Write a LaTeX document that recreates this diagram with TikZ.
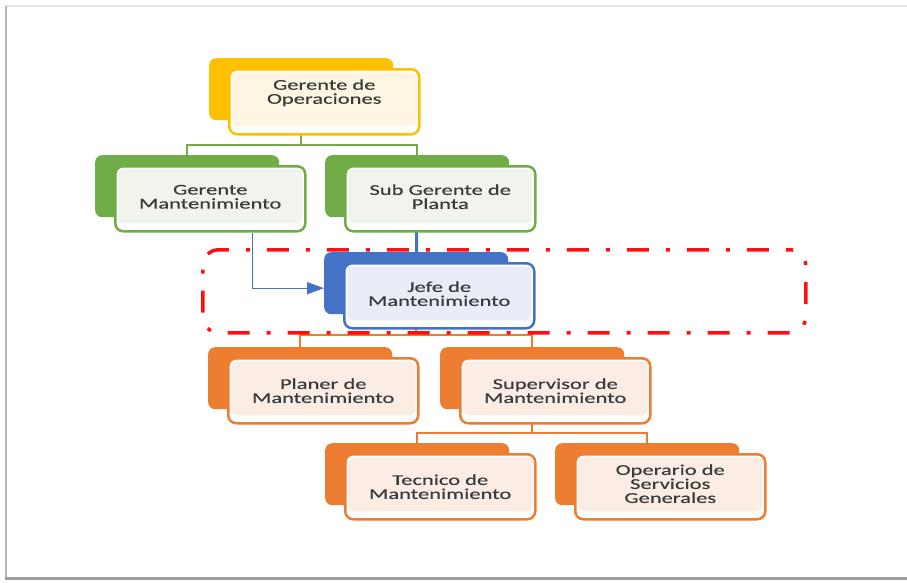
\documentclass[tikz,border=0pt]{standalone}
\usepackage{fontspec}
\newfontfamily\orgfont[FakeStretch=1.5,FakeBold=0.4]{Carlito}
\usetikzlibrary{arrows.meta}

\definecolor{yel}{HTML}{FFC000}
\definecolor{yelT}{HTML}{FEF6E2}
\definecolor{grn}{HTML}{70AD47}
\definecolor{grnT}{HTML}{F0F4EC}
\definecolor{blu}{HTML}{4472C4}
\definecolor{bluT}{HTML}{E8EDF7}
\definecolor{org}{HTML}{ED7D31}
\definecolor{orgT}{HTML}{FCEDE4}
\definecolor{txt}{HTML}{3A3A3A}
\definecolor{hilite}{HTML}{FF1010}

\pgfdeclarelayer{paper}
\pgfdeclarelayer{background}
\pgfsetlayers{paper,background,main}

\tikzset{
  backcard/.style={rounded corners=7pt, minimum width=184pt, minimum height=62pt,
    inner sep=0pt, anchor=north west},
  tintfill/.style={path picture={
    \fill[#1, rounded corners=5pt]
      ([shift={(3pt,-3pt)}]path picture bounding box.north west) rectangle
      ([shift={(-3pt,8pt)}]path picture bounding box.south east);}},
  frontcard/.style={draw, line width=2.5pt, fill=white, rounded corners=8pt,
    minimum width=190pt, minimum height=65pt, inner sep=0pt, anchor=north west},
  cardtext/.style={align=center, text=txt, inner sep=0pt,
    font=\orgfont\fontsize{15}{14}\selectfont},
  link/.style={line width=2.5pt, draw=#1},
  focusbox/.style={draw=hilite, line width=3.5pt, rounded corners=16pt,
    dash pattern=on 4pt off 17pt on 22pt off 17pt,
    minimum width=603pt, minimum height=83pt, inner sep=0pt, anchor=north west},
}

% one org-chart unit: coloured back card, framed front card and its title
% #1 vertical shift of the title, #2 name, #3/#4 back card corner, #5 colour, #6 tint, #7 title
\newcommand\orgunit[7][0pt]{%
  \node[backcard, fill=#5] (#2-b) at (#3,#4) {};
  \node[frontcard, draw=#5, tintfill=#6] (#2) at ([shift={(19pt,-10pt)}]#2-b.north west) {};
  \node[cardtext] (#2-t) at ([yshift=#1]#2.center) {#7};
}

\begin{document}
\begin{tikzpicture}[x=1pt,y=-1pt]
\useasboundingbox (0,0) rectangle (907,582);

\begin{pgfonlayer}{paper}
  \fill[white] (0,0) rectangle (907,582);
  % page frame with its soft shadow
  \draw[line width=2pt, black!10] (5,6) -- (907,6);
  \draw[line width=2.5pt, black!28] (6,6) -- (6,578);
  \draw[line width=3pt, black!38] (5,578) -- (907,578);
\end{pgfonlayer}

% units
\orgunit[9pt]{gop}{209}{58}{yel}{yelT}{Gerente de\\Operaciones}
\orgunit[2pt]{gman}{95}{155}{grn}{grnT}{Gerente\\Mantenimiento}
\orgunit[2pt]{sub}{325}{155}{grn}{grnT}{Sub Gerente de\\Planta}
\orgunit[2pt]{jefe}{324}{252}{blu}{bluT}{Jefe de\\Mantenimiento}
\orgunit{plan}{208}{347}{org}{orgT}{Planer de\\Mantenimiento}
\orgunit{sup}{440}{347}{org}{orgT}{Supervisor de\\Mantenimiento}
\orgunit{tec}{325}{443}{org}{orgT}{Tecnico de\\Mantenimiento}
\orgunit[3pt]{opr}{555}{443}{org}{orgT}{Operario de\\Servicios\\Generales}

% highlighted area around the maintenance head
\node[focusbox] (focus) at (201,248) {};

% connectors
\coordinate (barA) at (0,145);
\coordinate (barB) at (0,335);
\coordinate (barC) at (0,433);
\begin{pgfonlayer}{background}
  \draw[link=grn] (gop-b.center) -- (gop-b |- barA) -| (gman-b.center);
  \draw[link=grn] (gop-b |- barA) -| (sub-b.center);
  \draw[link=blu, line width=3pt] (sub-b.center) -- (jefe-b.center);
  \draw[link=org] (jefe-b.center) -- (jefe-b |- barB) -| (plan-b.center);
  \draw[link=org] (jefe-b |- barB) -| (sup-b.center);
  \draw[link=org] (sup-b.center) -- (sup-b |- barC) -| (tec-b.center);
  \draw[link=org] (sup-b |- barC) -| (opr-b.center);
\end{pgfonlayer}

\coordinate (armstart) at ([xshift=42pt]gman.south);
\draw[blu, line width=1.3pt, -{Triangle[length=17pt,width=12pt]}]
  (armstart) |- ([yshift=-5pt]jefe-b.west);
\end{tikzpicture}
\end{document}
